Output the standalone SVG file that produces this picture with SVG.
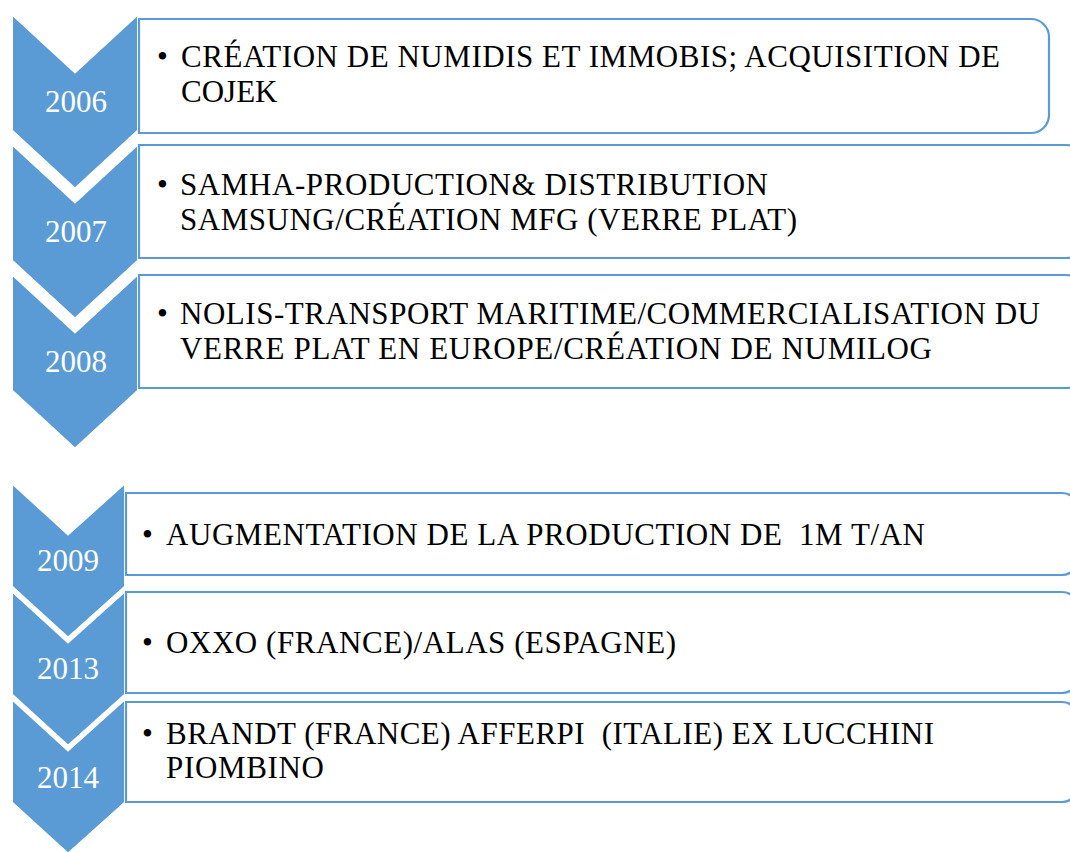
<svg xmlns="http://www.w3.org/2000/svg" width="1070" height="852" viewBox="0 0 1070 852">
<style>
.chev{fill:#5B9BD5;stroke:#FFFFFF;stroke-width:4;stroke-linejoin:miter}
.box{fill:#FFFFFF;stroke:#5B9BD5;stroke-width:2.2}
.yr{font-family:"Liberation Serif","Times New Roman",serif;font-size:31px;fill:#FFFFFF;text-anchor:middle}
.tx{font-family:"Liberation Serif","Times New Roman",serif;font-size:31px;fill:#000000;white-space:pre}
</style>
<rect width="1070" height="852" fill="#FFFFFF"/>
<g id="chevrons">
<g id="n2006c"><polygon class="chev" points="11,12 75,71 139,12 139,131 75,190 11,131"/></g>
<g id="n2007c"><polygon class="chev" points="11,142 75,201 139,142 139,261 75,320 11,261"/></g>
<g id="n2008c"><polygon class="chev" points="11,272 75,331 139,272 139,391 75,450 11,391"/></g>
<g id="n2009c"><polygon class="chev" points="11,481 68,533 126,481 126,587 68,639 11,587"/></g>
<g id="n2013c"><polygon class="chev" points="11,589 68,641 126,589 126,695 68,747 11,695"/></g>
<g id="n2014c"><polygon class="chev" points="11,697 68,749 126,697 126,803 68,855 11,803"/></g>
</g>
<g id="boxes">
<g id="n2006"><path class="box" d="M139,19 H1031 A18,18 0 0 1 1049,37 V115 A18,18 0 0 1 1031,133 H139 Z"/>
<text class="tx" x="157" y="67">•</text>
<text class="tx" x="181" y="67" textLength="819" lengthAdjust="spacing">CRÉATION DE NUMIDIS ET IMMOBIS; ACQUISITION DE</text>
<text class="tx" x="181" y="102">COJEK</text></g>
<g id="n2007"><path class="box" d="M139,145 H1066 A18,18 0 0 1 1084,163 V240 A18,18 0 0 1 1066,258 H139 Z"/>
<text class="tx" x="157" y="195">•</text>
<text class="tx" x="180" y="195" textLength="588" lengthAdjust="spacing">SAMHA-PRODUCTION&amp; DISTRIBUTION</text>
<text class="tx" x="180" y="230" textLength="617" lengthAdjust="spacing">SAMSUNG/CRÉATION MFG (VERRE PLAT)</text></g>
<g id="n2008"><path class="box" d="M139,275 H1066 A18,18 0 0 1 1084,293 V370 A18,18 0 0 1 1066,388 H139 Z"/>
<text class="tx" x="157" y="324">•</text>
<text class="tx" x="180" y="324" textLength="860" lengthAdjust="spacing">NOLIS-TRANSPORT MARITIME/COMMERCIALISATION DU</text>
<text class="tx" x="180" y="359" textLength="752" lengthAdjust="spacing">VERRE PLAT EN EUROPE/CRÉATION DE NUMILOG</text></g>
<g id="n2009"><path class="box" d="M126,493 H1062 A16,16 0 0 1 1078,509 V559 A16,16 0 0 1 1062,575 H126 Z"/>
<text class="tx" x="142" y="545">•</text>
<text class="tx" x="166" y="545" textLength="759" lengthAdjust="spacing">AUGMENTATION DE LA PRODUCTION DE  1M T/AN</text></g>
<g id="n2013"><path class="box" d="M126,592 H1062 A16,16 0 0 1 1078,608 V677 A16,16 0 0 1 1062,693 H126 Z"/>
<text class="tx" x="142" y="653">•</text>
<text class="tx" x="166" y="653" textLength="510" lengthAdjust="spacing">OXXO (FRANCE)/ALAS (ESPAGNE)</text></g>
<g id="n2014"><path class="box" d="M126,702 H1062 A16,16 0 0 1 1078,718 V786 A16,16 0 0 1 1062,802 H126 Z"/>
<text class="tx" x="142" y="744">•</text>
<text class="tx" x="166" y="744" textLength="768" lengthAdjust="spacing">BRANDT (FRANCE) AFFERPI  (ITALIE) EX LUCCHINI</text>
<text class="tx" x="166" y="778" textLength="158" lengthAdjust="spacing">PIOMBINO</text></g>
</g>
<g id="years">
<text class="yr" x="76" y="112">2006</text>
<text class="yr" x="76" y="242">2007</text>
<text class="yr" x="76" y="372">2008</text>
<text class="yr" x="68" y="571">2009</text>
<text class="yr" x="68" y="679">2013</text>
<text class="yr" x="68" y="788">2014</text>
</g>
<g id="connectors"></g>
</svg>
